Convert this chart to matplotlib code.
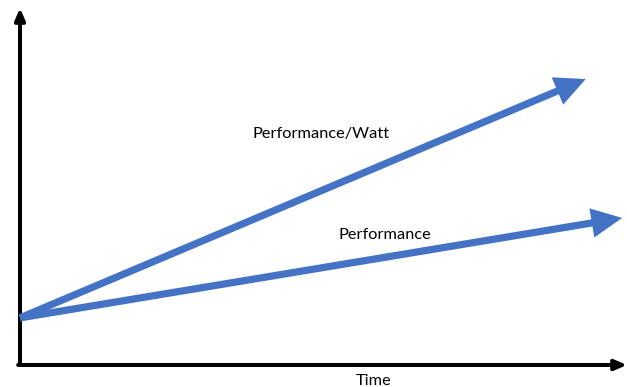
import matplotlib
matplotlib.use("Agg")
import matplotlib.pyplot as plt

# Data (normalized units, 0-100)
time_pw = [0.0, 93.2]
perf_watt = [13.2, 80.1]
time_p = [0.0, 99.2]
perf = [13.2, 41.2]
labels = {"Performance/Watt": (49.6, 64.7), "Performance": (60.1, 36.4)}
x_label = "Time"

blue = "#4472C4"

fig = plt.figure(figsize=(6.27, 3.87), dpi=100)
W, H = 627, 387
ax = fig.add_axes([20 / W, (H - 365) / H, (627 - 20) / W, (365 - 8) / H])
ax.set_xlim(0, 100)
ax.set_ylim(0, 100)
ax.axis("off")

# axes arrows
ax.annotate("", xy=(0, 1), xytext=(0, 0), xycoords="axes fraction",
            arrowprops=dict(arrowstyle="-|>,head_length=0.7,head_width=0.3",
                            lw=2.9, color="black", shrinkA=0, shrinkB=0),
            annotation_clip=False)
ax.annotate("", xy=(1.0, 0), xytext=(-0.003, 0), xycoords="axes fraction",
            arrowprops=dict(arrowstyle="-|>,head_length=0.7,head_width=0.3",
                            lw=2.9, color="black", shrinkA=0, shrinkB=0),
            annotation_clip=False)

for t, v in ((time_pw, perf_watt), (time_p, perf)):
    ax.annotate("", xy=(t[1], v[1]), xytext=(t[0], v[0]),
                arrowprops=dict(arrowstyle="-|>,head_length=1.35,head_width=0.65",
                                lw=5.2, color=blue, shrinkA=0, shrinkB=0,
                                joinstyle="miter", capstyle="butt"),
                annotation_clip=False)

for txt, (x, y) in labels.items():
    ax.text(x, y, txt, ha="center", va="center", fontsize=11.8, family="Lato")

ax.text(0.582, -0.045, x_label, transform=ax.transAxes, ha="center", va="center",
        fontsize=11.8, family="Lato")

fig.savefig("out.png", dpi=100)
